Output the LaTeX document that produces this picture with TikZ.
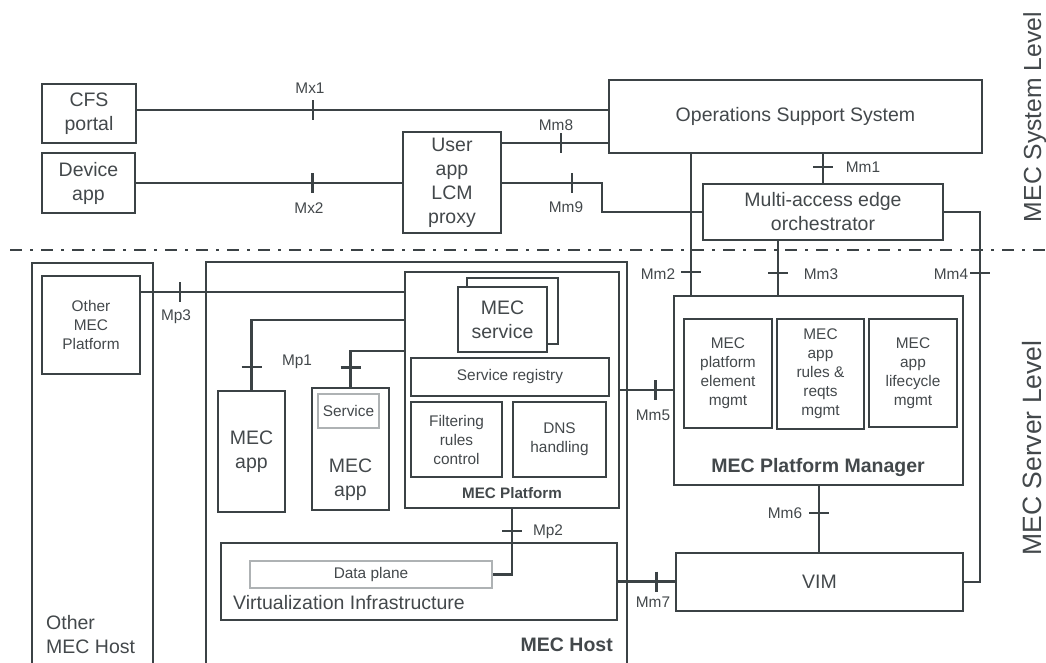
\documentclass[tikz,border=0pt]{standalone}
\usepackage{fontspec}
\setmainfont{Liberation Sans}
\usetikzlibrary{positioning}
\definecolor{linec}{HTML}{3B4245}
\definecolor{textc}{HTML}{43484B}
\definecolor{litec}{HTML}{AEB2B4}
\newcommand{\bigtxt}{\fontsize{19.5}{24}\selectfont}
\newcommand{\bigbold}{\fontsize{19.5}{24}\selectfont\bfseries}
\newcommand{\smalltxt}{\fontsize{15.4}{19}\selectfont}
\newcommand{\smallbold}{\fontsize{15.2}{19}\selectfont\bfseries}
\newcommand{\vtick}[1]{\draw[link] ([yshift=10pt]#1) -- ([yshift=-10pt]#1);}
\newcommand{\htick}[1]{\draw[link] ([xshift=-10pt]#1) -- ([xshift=10pt]#1);}
\begin{document}
\begin{tikzpicture}[x=1pt,y=-1pt,
    box/.style={draw=linec,line width=2.8pt,inner sep=0pt,align=center,text=textc,font=\bigtxt},
    thinbox/.style={box,line width=2pt},
    litebox/.style={draw=litec,line width=1.2pt,inner sep=0pt,align=center,text=textc,font=\smalltxt},
    link/.style={draw=linec,line width=2.3pt},
    sepline/.style={draw=linec,line width=2.8pt,dash pattern=on 12pt off 8pt on 3pt off 8pt},
    iface/.style={text=textc,font=\smalltxt,inner sep=0pt,text height=11pt,text depth=0pt},
    lbl/.style={text=textc,inner sep=0pt,align=center},
    sidelbl/.style={text=textc,inner sep=0pt,rotate=90,anchor=base}]
  \useasboundingbox (0,0) rectangle (1046,662);

  % system level
  \node[box,minimum width=94pt,minimum height=59pt] (cfs) at (89,113.5) {CFS\\portal};
  \node[thinbox,minimum width=93pt,minimum height=60pt] (devapp) at (88.5,183) {Device\\app};
  \node[thinbox,minimum width=98pt,minimum height=101pt] (proxy) at (452,182.5) {User\\app\\LCM\\proxy};
  \node[box,minimum width=373pt,minimum height=73pt] (oss) at (795.5,116.5) {Operations Support System};
  \node[box,minimum width=240pt,minimum height=56pt] (orch) at (823,212) {Multi-access edge\\orchestrator};

  % level separator
  \draw[sepline] (10,250) -- (1046,250);
  \node[sidelbl,font=\fontsize{24.7}{28}\selectfont] (syslvl) at (1041,117) {MEC System Level};
  \node[sidelbl,font=\fontsize{26.5}{30}\selectfont] (srvlvl) at (1041,448) {MEC Server Level};

  % other MEC host
  \node[thinbox,minimum width=121pt,minimum height=420pt] (otherhost) at (92.5,473) {};
  \node[box,font=\smalltxt,minimum width=98pt,minimum height=98pt] (otherplat) at (91,325) {Other\\MEC\\Platform};
  \node[lbl,font=\bigtxt,anchor=west,align=left] (otherlbl) at (46,635) {Other\\MEC Host};

  % MEC host
  \node[thinbox,minimum width=421pt,minimum height=420pt] (mechost) at (416.5,472) {};
  \node[lbl,font=\bigbold,anchor=east] (hostlbl) at (613,645) {MEC Host};
  \node[box,minimum width=214pt,minimum height=236pt] (mecplat) at (512,390) {};
  \node[box,minimum width=91pt,minimum height=66pt] (svcback) at (512.5,311) {};
  \node[box,fill=white,minimum width=89pt,minimum height=65pt] (svc) at (502.5,319.5) {MEC\\service};
  \node[box,font=\smalltxt,minimum width=198pt,minimum height=38pt] (registry) at (510,377) {Service registry};
  \node[box,font=\smalltxt,minimum width=91pt,minimum height=75pt] (filter) at (456.5,439.5) {Filtering\\rules\\control};
  \node[box,font=\smalltxt,minimum width=93pt,minimum height=75pt] (dns) at (559.5,439.5) {DNS\\handling};
  \node[lbl,font=\smallbold] (platlbl) at (512,493) {MEC Platform};
  \node[box,minimum width=67pt,minimum height=121pt] (app1) at (251.5,451.5) {MEC\\app};
  \node[box,minimum width=77pt,minimum height=122pt] (app2) at (350.5,449) {};
  \node[litebox,minimum width=61pt,minimum height=34pt] (service) at (348.5,411) {Service};
  \node[lbl,font=\bigtxt] (app2lbl) at (350.5,480) {MEC\\app};
  \node[box,minimum width=396pt,minimum height=77pt] (virt) at (419,581.5) {};
  \node[litebox,minimum width=242pt,minimum height=27pt] (dataplane) at (371,574.5) {Data plane};
  \node[lbl,font=\bigtxt,anchor=west] (virtlbl) at (233,603) {Virtualization Infrastructure};

  % platform manager and VIM
  \node[box,minimum width=289pt,minimum height=189pt] (pm) at (818.5,390.5) {};
  \node[box,font=\smalltxt,minimum width=88pt,minimum height=109pt] (pm1) at (728,373.5) {MEC\\platform\\element\\mgmt};
  \node[box,font=\smalltxt,minimum width=87pt,minimum height=110pt] (pm2) at (820.5,374) {MEC\\app\\rules \&\\reqts\\mgmt};
  \node[box,font=\smalltxt,minimum width=88pt,minimum height=108pt] (pm3) at (913,373) {MEC\\app\\lifecycle\\mgmt};
  \node[lbl,font=\bigbold] (pmlbl) at (818,467) {MEC Platform Manager};
  \node[box,minimum width=287pt,minimum height=58pt] (vim) at (819.5,582) {VIM};

  % reference points
  \draw[link] (cfs.east |- 0,110) -- coordinate[pos=0.374] (tmx1) (oss.west |- 0,110);
  \vtick{tmx1}
  \node[iface] (lmx1) at (310,88) {Mx1};
  \draw[link] (devapp.east) -- coordinate[pos=0.664] (tmx2) (devapp.east -| proxy.west);
  \vtick{tmx2}
  \node[iface] (lmx2) at (309,208) {Mx2};
  \draw[link] (proxy.east |- 0,143) -- coordinate[pos=0.556] (tmm8) (oss.west |- 0,143);
  \vtick{tmm8}
  \node[iface] (lmm8) at (556,125) {Mm8};
  \coordinate (bend9) at (602,183);
  \draw[link] (proxy.east |- bend9) -- coordinate[pos=0.70] (tmm9) (bend9) |- (orch.west);
  \vtick{tmm9}
  \node[iface] (lmm9) at (566,207) {Mm9};
  \draw[link] (orch.north |- oss.south) -- coordinate[pos=0.45] (tmm1) (orch.north);
  \htick{tmm1}
  \node[iface] (lmm1) at (863,167) {Mm1};
  \draw[link] (691,0 |- oss.south) -- coordinate[pos=0.84] (tmm2) (691,0 |- pm.north);
  \htick{tmm2}
  \node[iface] (lmm2) at (658,274) {Mm2};
  \draw[link] (778,0 |- orch.south) -- coordinate[pos=0.59] (tmm3) (778,0 |- pm.north);
  \htick{tmm3}
  \node[iface] (lmm3) at (821,274) {Mm3};
  \coordinate (mm4c) at (980,582);
  \draw[link] (orch.east) -| coordinate[pos=0.582] (tmm4) (mm4c) -- (vim.east);
  \htick{tmm4}
  \node[iface] (lmm4) at (951,274) {Mm4};
  \draw[link] (mecplat.east) -- coordinate[pos=0.67] (tmm5) (mecplat.east -| pm.west);
  \vtick{tmm5}
  \node[iface] (lmm5) at (653,415) {Mm5};
  \draw[link] (pm.south -| 819,0) -- coordinate[pos=0.41] (tmm6) (vim.north -| 819,0);
  \htick{tmm6}
  \node[iface] (lmm6) at (785,513) {Mm6};
  \draw[link] (virt.east) -- coordinate[pos=0.68] (tmm7) (virt.east -| vim.west);
  \vtick{tmm7}
  \node[iface] (lmm7) at (653,602) {Mm7};
  \draw[link] (mecplat.south) |- coordinate[pos=0.165] (tmp2) (dataplane.east);
  \htick{tmp2}
  \node[iface] (lmp2) at (548,530) {Mp2};
  \draw[link] (app1.north) |- coordinate[pos=0.162] (tmp1a) (mecplat.west |- 0,320);
  \htick{tmp1a}
  \draw[link] (app2.north) |- coordinate[pos=0.27] (tmp1b) (mecplat.west |- 0,351);
  \htick{tmp1b}
  \node[iface] (lmp1) at (297,360) {Mp1};
  \draw[link] (otherplat.east |- 0,292) -- coordinate[pos=0.147] (tmp3) (mecplat.west |- 0,292);
  \vtick{tmp3}
  \node[iface] (lmp3) at (176,315) {Mp3};
\end{tikzpicture}
\end{document}
